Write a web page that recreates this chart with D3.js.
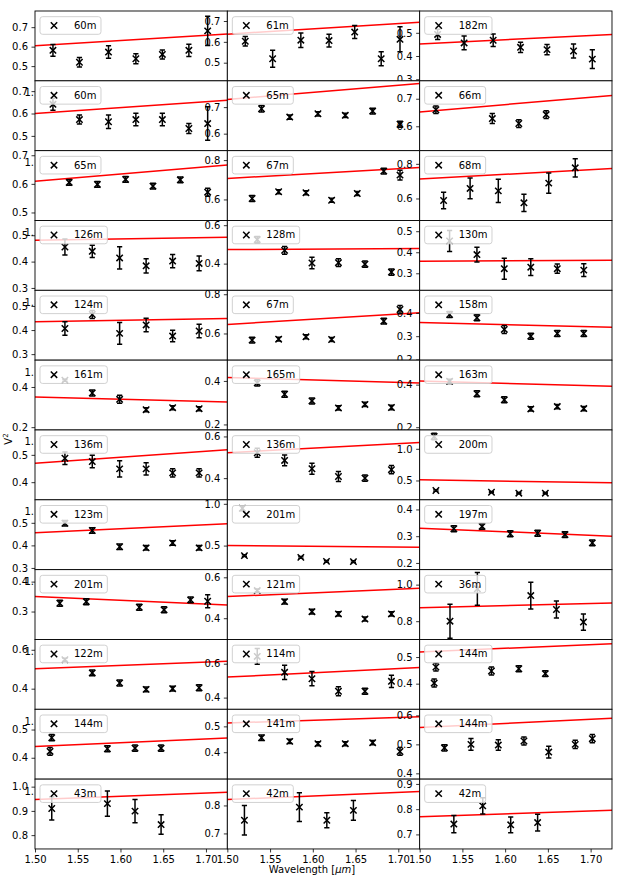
<!DOCTYPE html>
<html><head><meta charset="utf-8">
<script src="https://cdn.jsdelivr.net/npm/d3@7"></script>
<style>
body{margin:0;background:#fff}
svg{display:block}
text{font-family:"DejaVu Sans",sans-serif;font-size:10px;fill:#000}
</style>
</head><body><svg id="c" width="623" height="878"></svg>
<script>
// ---------------- DATA ----------------
const panelLabels = ["60m","61m","182m","60m","65m","66m","65m","67m","68m","126m","128m","130m",
  "124m","67m","158m","161m","165m","163m","136m","136m","200m","123m","201m","197m",
  "201m","121m","36m","122m","114m","144m","144m","141m","144m","43m","42m","42m"];

const xLimits = [1.50, 1.725];
const xTickValues = [1.50, 1.55, 1.60, 1.65, 1.70];

const wavelengths = [
  [1.521,1.552,1.586,1.618,1.649,1.680,1.702],
  [1.521,1.553,1.586,1.619,1.649,1.680,1.702],
  [1.521,1.552,1.586,1.618,1.649,1.680,1.702],
  [1.521,1.552,1.586,1.618,1.649,1.680,1.702],
  [1.540,1.573,1.606,1.638,1.670,1.702],
  [1.519,1.585,1.616,1.648],
  [1.540,1.573,1.606,1.638,1.670,1.702],
  [1.529,1.560,1.592,1.622,1.652,1.683,1.702],
  [1.528,1.559,1.592,1.622,1.651,1.682],
  [1.535,1.567,1.599,1.630,1.661,1.692],
  [1.535,1.567,1.599,1.630,1.661,1.692],
  [1.535,1.567,1.599,1.630,1.661,1.692],
  [1.535,1.567,1.599,1.630,1.661,1.692],
  [1.529,1.560,1.592,1.622,1.683,1.702],
  [1.535,1.567,1.599,1.630,1.661,1.692],
  [1.535,1.567,1.599,1.630,1.661,1.692],
  [1.535,1.567,1.599,1.630,1.661,1.692],
  [1.535,1.567,1.599,1.630,1.661,1.692],
  [1.535,1.567,1.599,1.630,1.661,1.692],
  [1.535,1.567,1.599,1.630,1.661,1.692],
  [1.517,1.519,1.584,1.616,1.647],
  [1.535,1.567,1.599,1.630,1.661,1.692],
  [1.5176,1.520,1.586,1.616,1.6475],
  [1.540,1.573,1.606,1.638,1.670,1.702],
  [1.529,1.560,1.622,1.651,1.682,1.702],
  [1.535,1.567,1.599,1.630,1.661,1.692],
  [1.5355,1.5675,1.630,1.660,1.6916],
  [1.535,1.567,1.599,1.630,1.661,1.692],
  [1.535,1.567,1.599,1.630,1.661,1.692],
  [1.517,1.519,1.584,1.616,1.647],
  [1.5176,1.5196,1.5847,1.617,1.6475],
  [1.540,1.573,1.606,1.638,1.670,1.702],
  [1.529,1.560,1.592,1.622,1.651,1.682,1.702],
  [1.5196,1.5847,1.617,1.6475],
  [1.520,1.5843,1.6164,1.6475],
  [1.540,1.5738,1.6065,1.638]
];

const visibilities = [
  [0.581,0.520,0.572,0.538,0.560,0.581,0.681],
  [0.603,0.519,0.608,0.606,0.647,0.519,0.612],
  [0.493,0.4565,0.468,0.4375,0.4275,0.4215,0.3865],
  [0.641,0.573,0.563,0.573,0.573,0.533,0.555],
  [0.694,0.6625,0.675,0.669,0.685,0.6355],
  [0.660,0.628,0.610,0.6425],
  [0.605,0.598,0.6155,0.592,0.614,0.571],
  [0.605,0.639,0.634,0.596,0.630,0.744,0.724],
  [0.5885,0.658,0.644,0.575,0.6886,0.777],
  [0.4555,0.439,0.414,0.384,0.402,0.393],
  [0.525,0.469,0.403,0.405,0.397,0.356],
  [0.454,0.389,0.322,0.329,0.322,0.315],
  [0.4066,0.4645,0.3862,0.4214,0.375,0.396],
  [0.566,0.571,0.583,0.5695,0.6627,0.722],
  [0.393,0.379,0.329,0.300,0.3115,0.3115],
  [0.4335,0.370,0.3385,0.287,0.297,0.292],
  [0.391,0.3386,0.308,0.276,0.292,0.278],
  [0.4156,0.357,0.3285,0.286,0.297,0.2875],
  [0.4875,0.4755,0.4487,0.4487,0.434,0.434],
  [0.5217,0.485,0.445,0.408,0.400,0.4405],
  [1.194,0.342,0.315,0.300,0.300],
  [0.498,0.466,0.394,0.389,0.411,0.389],
  [0.947,0.380,0.359,0.311,0.308],
  [0.3277,0.3366,0.309,0.311,0.306,0.275],
  [0.3277,0.333,0.3144,0.3057,0.339,0.3343],
  [0.535,0.481,0.432,0.421,0.396,0.421],
  [0.800,0.977,0.940,0.864,0.795],
  [0.549,0.481,0.429,0.3965,0.400,0.405],
  [0.643,0.549,0.5115,0.4375,0.4375,0.496],
  [0.4023,0.4625,0.4475,0.456,0.4377],
  [0.4225,0.471,0.432,0.434,0.434],
  [0.456,0.442,0.433,0.433,0.437,0.403],
  [0.488,0.500,0.4975,0.5115,0.4733,0.500,0.5196],
  [0.910,0.930,0.899,0.8436],
  [0.747,0.794,0.747,0.7823],
  [0.741,0.813,0.738,0.747]
];

const visErrors = [
  [0.030,0.024,0.032,0.026,0.023,0.031,0.075],
  [0.023,0.041,0.035,0.031,0.031,0.034,0.060],
  [0.022,0.030,0.027,0.022,0.022,0.030,0.040],
  [0.027,0.020,0.030,0.028,0.028,0.022,0.075],
  [0.012,0.008,0.008,0.008,0.011,0.011],
  [0.014,0.018,0.014,0.014],
  [0.010,0.010,0.010,0.010,0.010,0.014],
  [0.015,0.010,0.010,0.010,0.010,0.015,0.025],
  [0.048,0.060,0.067,0.050,0.059,0.053],
  [0.030,0.023,0.042,0.027,0.025,0.028],
  [0.016,0.020,0.030,0.020,0.016,0.016],
  [0.050,0.035,0.050,0.040,0.022,0.030],
  [0.028,0.017,0.045,0.028,0.024,0.028],
  [0.015,0.010,0.010,0.010,0.015,0.020],
  [0.013,0.013,0.017,0.013,0.013,0.013],
  [0.005,0.015,0.020,0.010,0.010,0.010],
  [0.014,0.014,0.014,0.010,0.010,0.010],
  [0.010,0.014,0.014,0.010,0.010,0.010],
  [0.023,0.023,0.030,0.022,0.015,0.015],
  [0.022,0.026,0.026,0.024,0.015,0.020],
  [0.050,0.010,0.010,0.010,0.010],
  [0.012,0.012,0.012,0.010,0.010,0.010],
  [0.030,0.010,0.010,0.010,0.010],
  [0.011,0.011,0.011,0.011,0.011,0.011],
  [0.010,0.010,0.010,0.010,0.010,0.022],
  [0.008,0.012,0.012,0.010,0.010,0.010],
  [0.093,0.090,0.073,0.047,0.045],
  [0.008,0.015,0.015,0.012,0.012,0.015],
  [0.046,0.042,0.042,0.026,0.018,0.036],
  [0.015,0.015,0.015,0.011,0.011],
  [0.014,0.011,0.011,0.011,0.011],
  [0.011,0.008,0.008,0.008,0.008,0.015],
  [0.011,0.020,0.018,0.014,0.020,0.014,0.014],
  [0.048,0.052,0.048,0.040],
  [0.053,0.051,0.027,0.035],
  [0.034,0.032,0.031,0.033]
];

// model V^2 at the two ends of the wavelength range
const modelV2 = [
  [0.605,0.665],[0.637,0.694],[0.452,0.493],
  [0.600,0.659],[0.729,0.789],[0.652,0.712],
  [0.609,0.666],[0.707,0.762],[0.713,0.773],
  [0.481,0.4925],[0.473,0.479],[0.357,0.362],
  [0.434,0.448],[0.646,0.706],[0.359,0.338],
  [0.350,0.325],[0.416,0.390],[0.417,0.392],
  [0.469,0.519],[0.522,0.571],[0.511,0.464],
  [0.456,0.496],[0.500,0.480],[0.330,0.300],
  [0.350,0.322],[0.506,0.546],[0.873,0.900],
  [0.503,0.5415],[0.521,0.577],[0.519,0.550],
  [0.440,0.470],[0.513,0.537],[0.558,0.590],
  [0.947,0.977],[0.821,0.850],[0.770,0.796]
];

const yLimits = [
  [0.4245,0.783],[0.413,0.748],[0.293,0.594],
  [0.434,0.746],[0.536,0.799],[0.5115,0.765],
  [0.472,0.716],[0.493,0.848],[0.473,0.876],
  [0.291,0.556],[0.261,0.6245],[0.219,0.551],
  [0.275,0.565],[0.464,0.820],[0.197,0.497],
  [0.186,0.5335],[0.1746,0.4955],[0.187,0.515],
  [0.3355,0.591],[0.296,0.631],[0.195,1.297],
  [0.2925,0.602],[0.212,1.048],[0.175,0.436],
  [0.2067,0.440],[0.296,0.6375],[0.700,1.082],
  [0.294,0.653],[0.331,0.743],[0.3037,0.566],
  [0.3243,0.5717],[0.296,0.566],[0.380,0.621],
  [0.743,1.031],[0.6445,0.894],[0.6424,0.919]
];

const yTickValues = [
  [0.5,0.6,0.7],[0.5,0.6,0.7],[0.3,0.4,0.5],
  [0.5,0.6,0.7],[0.6,0.7],[0.6,0.7],
  [0.5,0.6,0.7],[0.6,0.8],[0.6,0.8],
  [0.3,0.4,0.5],[0.4,0.6],[0.3,0.4,0.5],
  [0.3,0.4,0.5],[0.6,0.8],[0.2,0.3,0.4],
  [0.2,0.4],[0.2,0.4],[0.2,0.4],
  [0.4,0.5],[0.4,0.6],[0.5,1.0],
  [0.3,0.4,0.5],[0.5,1.0],[0.2,0.3,0.4],
  [0.3,0.4],[0.4,0.6],[0.8,1.0],
  [0.4,0.6],[0.4,0.6],[0.4,0.5],
  [0.4,0.5],[0.4,0.5],[0.4,0.5,0.6],
  [0.8,0.9,1.0],[0.7,0.8],[0.7,0.8,0.9]
];

// ---------------- LAYOUT ----------------
const W = 623, H = 878;
const gridLeft = 35, colW = 192.33, gridTop = 11, rowH = 69.83, nCols = 3, nRows = 12;
const svg = d3.select("#c");
svg.append("rect").attr("width", W).attr("height", H).attr("fill", "#fff");
const defs = svg.append("defs");

// stray partially-hidden labels in the left margin
svg.selectAll("text.stray").data(d3.range(1, nRows)).join("text")
  .attr("class", "stray").attr("x", 24.5).attr("y", r => gridTop + r * rowH + 12)
  .attr("dy", "0.35em").text("1.");

const fmt = d3.format(".1f");
const mk = 3.2;

panelLabels.forEach((lab, i) => {
  const r = Math.floor(i / nCols), c = i % nCols;
  const x0 = gridLeft + c * colW, y0 = gridTop + r * rowH;
  const g = svg.append("g").attr("transform", `translate(${x0},${y0})`);
  const xs = d3.scaleLinear().domain(xLimits).range([0, colW]);
  const ys = d3.scaleLinear().domain(yLimits[i]).range([rowH, 0]);

  defs.append("clipPath").attr("id", "cp" + i).append("rect").attr("width", colW).attr("height", rowH);
  g.append("rect").attr("width", colW).attr("height", rowH).attr("fill", "#fff");
  const inner = g.append("g").attr("clip-path", `url(#cp${i})`);

  inner.append("line")
    .attr("x1", xs(xLimits[0])).attr("x2", xs(xLimits[1]))
    .attr("y1", ys(modelV2[i][0])).attr("y2", ys(modelV2[i][1]))
    .attr("stroke", "#ff0000").attr("stroke-width", 1.5);

  const pts = wavelengths[i].map((w, k) => ({ w, v: visibilities[i][k], e: visErrors[i][k] }));
  const pg = inner.selectAll("g.pt").data(pts).join("g").attr("class", "pt")
    .attr("transform", d => `translate(${xs(d.w)},${ys(d.v)})`);
  pg.append("line").attr("x1", 0).attr("x2", 0)
    .attr("y1", d => ys(d.v + d.e) - ys(d.v)).attr("y2", d => ys(d.v - d.e) - ys(d.v))
    .attr("stroke", "#000").attr("stroke-width", 1.5);
  pg.append("line").attr("x1", -2.6).attr("x2", 2.6)
    .attr("y1", d => ys(d.v + d.e) - ys(d.v)).attr("y2", d => ys(d.v + d.e) - ys(d.v))
    .attr("stroke", "#000").attr("stroke-width", 1.5);
  pg.append("line").attr("x1", -2.6).attr("x2", 2.6)
    .attr("y1", d => ys(d.v - d.e) - ys(d.v)).attr("y2", d => ys(d.v - d.e) - ys(d.v))
    .attr("stroke", "#000").attr("stroke-width", 1.5);
  pg.append("path").attr("d", `M${-mk},${-mk}L${mk},${mk}M${-mk},${mk}L${mk},${-mk}`)
    .attr("stroke", "#000").attr("stroke-width", 1.5).attr("fill", "none");

  // spines
  g.append("rect").attr("width", colW).attr("height", rowH)
    .attr("fill", "none").attr("stroke", "#000").attr("stroke-width", 0.9);

  // y axis
  const ya = g.append("g").call(d3.axisLeft(ys).tickValues(yTickValues[i]).tickFormat(fmt)
    .tickSize(3.5).tickPadding(3.5));
  ya.select(".domain").remove();
  ya.attr("font-family", null).attr("font-size", null);
  ya.selectAll("line").attr("stroke", "#000").attr("stroke-width", 0.8);
  ya.selectAll("text").attr("fill", "#000");

  // x axis on bottom row
  if (r === nRows - 1) {
    const xa = g.append("g").attr("transform", `translate(0,${rowH})`)
      .call(d3.axisBottom(xs).tickValues(xTickValues).tickFormat(d3.format(".2f"))
        .tickSize(3.5).tickPadding(3.5));
    xa.select(".domain").remove();
    xa.attr("font-family", null).attr("font-size", null);
    xa.selectAll("line").attr("stroke", "#000").attr("stroke-width", 0.8);
    xa.selectAll("text").attr("fill", "#000");
  }

  // legend
  const lg = g.append("g").attr("transform", "translate(5,5.7)");
  const box = lg.append("rect").attr("rx", 2.5).attr("ry", 2.5).attr("height", 17.6)
    .attr("fill", "rgba(255,255,255,0.8)").attr("stroke", "#cccccc").attr("stroke-width", 0.9);
  lg.append("path").attr("transform", "translate(14,8.8)")
    .attr("d", `M${-mk},${-mk}L${mk},${mk}M${-mk},${mk}L${mk},${-mk}`)
    .attr("stroke", "#000").attr("stroke-width", 1.5);
  const t = lg.append("text").attr("x", 34).attr("y", 8.8).attr("dy", "0.35em").text(lab);
  box.attr("width", 34 + t.node().getComputedTextLength() + 4.5);
});

// axis titles
const xt = svg.append("text").attr("x", 312).attr("y", 873).attr("text-anchor", "middle");
xt.append("tspan").text("Wavelength [");
xt.append("tspan").attr("font-style", "italic").text("μm");
xt.append("tspan").text("]");

const yt = svg.append("text").attr("transform", "translate(11.5,439) rotate(-90)").attr("text-anchor", "middle");
yt.append("tspan").text("V");
yt.append("tspan").attr("dy", "-4").attr("font-size", "7px").text("2");
</script>
</body></html>
